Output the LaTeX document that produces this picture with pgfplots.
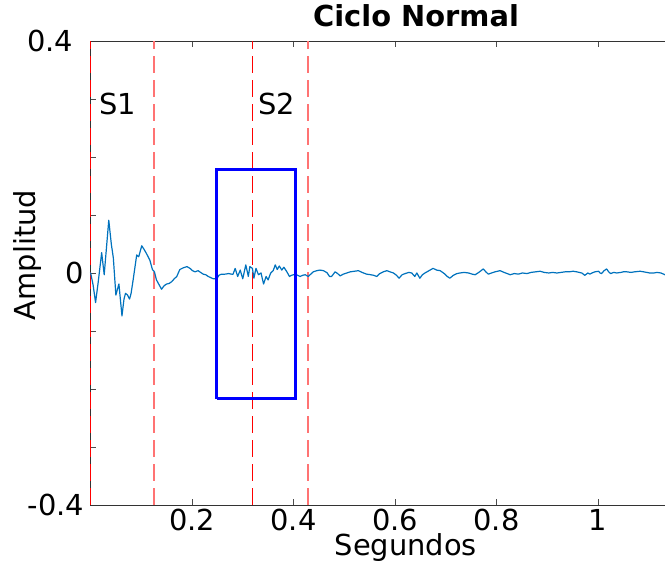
\documentclass[border=0pt]{standalone}
\usepackage{pgfplots}
\pgfplotsset{compat=1.18}
\usepackage{fontspec}
\setmainfont{DejaVu Sans}
\usetikzlibrary{calc}
\definecolor{sig}{rgb}{0,0.447,0.741}
\definecolor{lred}{rgb}{1,0.45,0.45}
\begin{document}
\begin{tikzpicture}
\begin{axis}[
  name=ax,
  scale only axis,
  width=574.5bp, height=464bp,
  xmin=0, xmax=1.132, ymin=-0.4, ymax=0.4,
  axis x line*=box, axis y line*=left,
  axis line style={black!80, line width=0.8bp},
  clip=false,
  font=\fontsize{29}{33}\selectfont,
  xtick={0.2,0.4,0.6,0.8,1},
  xticklabels={0.2,0.4,0.6,0.8,1},
  ytick={-0.4,-0.3,-0.2,-0.1,0,0.1,0.2,0.3,0.4},
  yticklabels={-0.4,,,,0,,,,0.4\kern11bp},
  tick align=inside,
  major tick length=6bp,
  tick style={black!70, line width=0.6bp},
  xticklabel style={yshift=-1bp},
  yticklabel style={xshift=-3bp},
  title={\bfseries Ciclo Normal},
  title style={at={(axis description cs:0.5666,1.041)}, anchor=center, font=\fontsize{29}{33}\selectfont},
  xlabel={Segundos},
  xlabel style={at={(axis description cs:0.549,-0.0927)}, anchor=center},
  ylabel={Amplitud},
  ylabel style={at={(axis description cs:-0.1088,0.539)}, anchor=center, rotate=0},
]
\addplot[red, line width=1.3bp, dash pattern=on 17bp off 7bp] coordinates {(0,-0.4) (0,0.4)};
\addplot[lred, line width=1.4bp, dash pattern=on 17bp off 7bp] coordinates {(0.125,-0.4) (0.125,0.4)};
\addplot[red, line width=1.3bp, dash pattern=on 17bp off 7bp] coordinates {(0.319,-0.4) (0.319,0.4)};
\addplot[lred, line width=1.4bp, dash pattern=on 17bp off 7bp] coordinates {(0.4285,-0.4) (0.4285,0.4)};
\addplot[sig, line width=1.2bp, line join=round] coordinates {
(0,0.001) (0.005,-0.02) (0.010,-0.051) (0.015,-0.017) (0.022,0.035) (0.027,-0.003)
(0.036,0.091) (0.041,0.05) (0.045,0.026) (0.050,-0.038) (0.056,-0.019) (0.062,-0.074)
(0.066,-0.045) (0.069,-0.035) (0.073,-0.038) (0.077,-0.045) (0.080,-0.035) (0.084,-0.012)
(0.091,0.031) (0.095,0.028) (0.101,0.047) (0.106,0.040) (0.110,0.034) (0.117,0.022)
(0.122,0.006) (0.126,0.002) (0.130,-0.012) (0.135,-0.020) (0.140,-0.028) (0.145,-0.022)
(0.150,-0.019) (0.155,-0.018) (0.160,-0.015) (0.165,-0.010) (0.170,-0.006) (0.176,0.006)
(0.183,0.009) (0.190,0.011) (0.196,0.008) (0.201,0.004) (0.206,0.002) (0.212,0.004)
(0.217,0.001) (0.222,-0.002) (0.227,-0.003) (0.232,-0.006) (0.237,-0.008) (0.242,-0.010)
(0.249,-0.010) (0.253,-0.004) (0.258,-0.002) (0.265,-0.002) (0.272,-0.001) (0.278,-0.002)
(0.281,-0.002) (0.285,0.008) (0.290,-0.006) (0.295,0.005) (0.300,-0.010) (0.306,0.014)
(0.311,-0.006) (0.314,0.011) (0.319,0.008) (0.322,-0.009) (0.326,0.008) (0.331,-0.003)
(0.336,0.0) (0.341,-0.019) (0.346,-0.006) (0.350,-0.012) (0.355,0.0) (0.360,0.004)
(0.364,0.014) (0.368,0.006) (0.372,0.012) (0.377,0.005) (0.381,0.010) (0.387,0.002)
(0.392,-0.006) (0.396,-0.004) (0.400,-0.003) (0.406,-0.003) (0.413,-0.006) (0.418,-0.004)
(0.423,-0.003) (0.429,-0.006) (0.434,-0.002) (0.439,0.002) (0.446,0.004) (0.452,0.005)
(0.459,0.004) (0.466,0.0005) (0.471,-0.006) (0.475,-0.006) (0.482,0.002) (0.487,-0.001)
(0.492,-0.005) (0.498,-0.002) (0.505,0.0) (0.512,0.002) (0.520,0.003) (0.528,0.004)
(0.535,0.001) (0.544,-0.002) (0.552,-0.003) (0.558,-0.004) (0.564,-0.006) (0.570,-0.001)
(0.577,0.002) (0.584,0.004) (0.590,0.002) (0.597,0.0) (0.603,-0.004) (0.608,-0.009)
(0.614,-0.003) (0.620,-0.001) (0.627,0.001) (0.633,0.0) (0.639,-0.006) (0.643,0.0)
(0.649,-0.009) (0.654,-0.003) (0.659,0.0) (0.667,0.004) (0.675,0.008) (0.682,0.005)
(0.689,0.004) (0.697,-0.001) (0.703,-0.006) (0.708,-0.009) (0.715,-0.004) (0.722,-0.001)
(0.728,0.0) (0.736,0.001) (0.745,0.0) (0.752,-0.002) (0.758,-0.003) (0.765,0.001)
(0.774,0.007) (0.779,0.002) (0.784,-0.002) (0.790,0.0) (0.797,0.002) (0.807,0.004)
(0.815,0.001) (0.821,-0.001) (0.827,-0.003) (0.835,-0.001) (0.843,-0.002) (0.851,0.0)
(0.860,-0.001) (0.868,0.001) (0.877,0.002) (0.886,0.003) (0.894,0.001) (0.903,0.0)
(0.911,0.001) (0.919,0.0) (0.927,0.001) (0.935,0.002) (0.943,0.002) (0.951,0.003)
(0.958,0.002) (0.963,0.001) (0.968,0.0) (0.974,-0.004) (0.980,0.0) (0.984,-0.002)
(0.988,0.0) (0.994,0.002) (1.001,0.003) (1.004,0.0) (1.007,-0.001) (1.012,0.004)
(1.017,0.007) (1.021,0.002) (1.025,-0.001) (1.031,0.001) (1.037,0.0) (1.045,0.001)
(1.050,0.002) (1.057,0.002) (1.065,0.001) (1.072,0.002) (1.083,0.003) (1.090,0.002)
(1.096,0.001) (1.102,0.0) (1.110,0.0) (1.116,0.001) (1.124,0.0) (1.132,-0.003)
};
\addplot[blue, line width=3bp, line join=miter] coordinates {(0.249,-0.217) (0.404,-0.217) (0.404,0.179) (0.249,0.179) (0.249,-0.217)};
\node[font=\fontsize{29}{33}\selectfont] at (axis cs:0.054,0.291) {S1};
\node[font=\fontsize{29}{33}\selectfont] at (axis cs:0.367,0.291) {S2};
\end{axis}
\pgfresetboundingbox
\useasboundingbox ($(ax.south west)+(-90.5bp,-56bp)$) rectangle ($(ax.north east)+(0,41bp)$);
\end{tikzpicture}
\end{document}
